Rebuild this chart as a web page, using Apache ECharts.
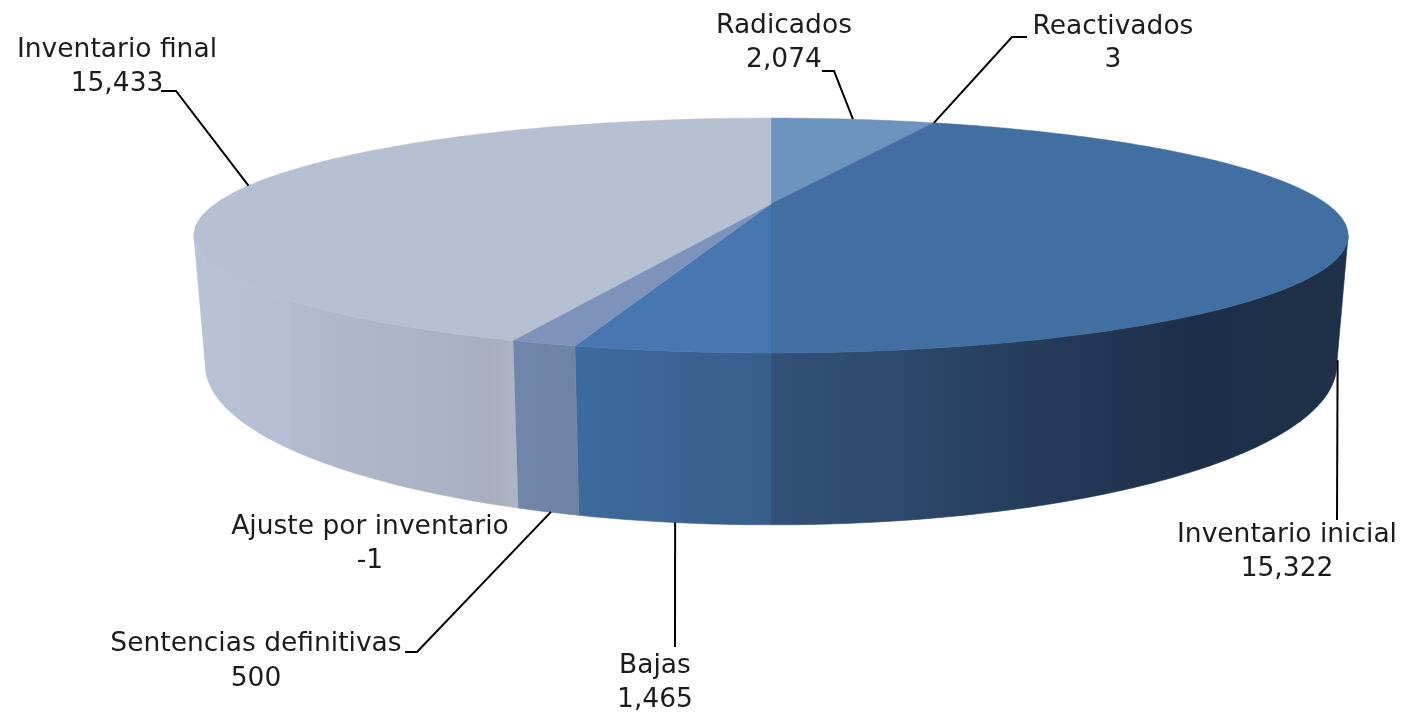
<!DOCTYPE html>
<html><head><meta charset="utf-8">
<style>html,body{margin:0;padding:0;background:#fff}#c{width:1404px;height:715px}</style>
<script src="https://cdn.jsdelivr.net/npm/echarts@6/dist/echarts.min.js"></script>
</head><body><div id="c"></div>
<script>
// ---- data ----
const categories = ['Radicados','Reactivados','Inventario inicial','Bajas','Sentencias definitivas','Ajuste por inventario','Inventario final'];
const values = [2074,3,15322,1465,500,-1,15433];
const valueLabels = ['2,074','3','15,322','1,465','500','-1','15,433'];

// ---- styles ----
const topColors = ['#6c94bf','#6c94bf','#426fa2','#4677b0','#7e93bc','#7e93bc','#b5c0d3'];
const sideStops = [
  [[771,'#5d82aa'],[933,'#5d82aa']],
  [[933,'#3a5f8c'],[940,'#3a5f8c']],
  [[771,'#33507a'],[900,'#2c486a'],[1050,'#243b59'],[1190,'#1d2f48'],[1348,'#1f3149']],
  [[575,'#3d6b9d'],[771,'#385d89']],
  [[513,'#6e87ab'],[580,'#6f82a2']],
  [[513,'#6e87ab'],[516,'#6e87ab']],
  [[193,'#b6c2d6'],[289,'#b5bfd3'],[291,'#b1bacf'],[420,'#adb3c7'],[490,'#a9afc1'],[518,'#aeb5c4']]
];
// ---- layout: perspective planes of the disc (top face, bottom face) ----
const TOP = {cx:771, cy:204, a:556, b:109, k:0.268};
const BOT = {cx:771, cy:322, a:545, b:148.5, k:0.268};
const FONT = 'DejaVu Sans', FS = 26.5, TC = '#1c1c1c';
// label centre (x, y of line 1, y of line 2); leader: text-side points and which plane it touches
const labelLayout = [
  {x:784, y1:26, y2:60, line:[[822,71],[834,71]], plane:TOP},
  {x:1113,y1:27, y2:60, line:[[1027,37],[1012,37]], plane:TOP},
  {x:1287,y1:535,y2:569,line:[[1337,520]], plane:BOT, dx:3, dy:9},
  {x:655, y1:666,y2:700,line:[[675,647]], plane:BOT, dx:2},
  {x:256, y1:644,y2:679,line:[[405,652],[417,652]], plane:BOT, dx:3},
  {x:370, y1:527,y2:561,line:null},
  {x:117, y1:50, y2:84, line:[[161,91],[176,91]], plane:TOP}
];

// ---- geometry derived from values ----
const total = values.reduce((s,v)=>s+Math.abs(v),0);
const starts = []; let acc = 0;
values.forEach(v=>{starts.push(acc/total*360); acc+=Math.abs(v);});
const ends = starts.map((s,i)=>i<values.length-1?starts[i+1]:360);
// outline tangents of the perspective disc: only this range of the wall faces the viewer
const wallA = Math.acos(-TOP.k)*180/Math.PI, wallB = 360-wallA;
function proj(P,deg){
  const t=deg*Math.PI/180, s=Math.sin(t), c=Math.cos(t), w=1+P.k*c;
  return [P.cx+P.a*s/w, P.cy-P.b*c/w];
}
function arc(P,a0,a1){
  const pts=[], n=Math.max(2,Math.ceil(Math.abs(a1-a0)));
  for(let i=0;i<=n;i++) pts.push(proj(P,a0+(a1-a0)*i/n));
  return pts;
}
function sideFill(i){
  const st=sideStops[i], x0=st[0][0], x1=st[st.length-1][0];
  return new echarts.graphic.LinearGradient(x0,0,x1,0,
    st.map(s=>({offset:(s[0]-x0)/(x1-x0),color:s[1]})),true);
}
const idx = categories.map((c,i)=>[i,values[i]]);
const base = {type:'custom',coordinateSystem:'none',silent:true,animation:false,data:idx};

const option = {
  animation:false,
  backgroundColor:'#ffffff',
  series:[
    Object.assign({},base,{name:'sides',z:1,renderItem(p,api){
      const i=api.value(0), a=Math.max(starts[i],wallA), b=Math.min(ends[i],wallB);
      if(b<=a) return {type:'group',children:[]};
      const pts=arc(TOP,a,b).concat(arc(BOT,b,a));
      const f=sideFill(i);
      return {type:'polygon',shape:{points:pts},style:{fill:f,stroke:f,lineWidth:0.6}};
    }}),
    Object.assign({},base,{name:'tops',z:2,renderItem(p,api){
      const i=api.value(0);
      const pts=[[TOP.cx,TOP.cy]].concat(arc(TOP,starts[i],ends[i]));
      return {type:'polygon',shape:{points:pts},style:{fill:topColors[i],stroke:topColors[i],lineWidth:0.5}};
    }}),
    Object.assign({},base,{name:'labels',z:3,renderItem(p,api){
      const i=api.value(0), L=labelLayout[i], kids=[];
      if(L.line){
        const an=proj(L.plane,(starts[i]+ends[i])/2);
        an[0]+=L.dx||0; an[1]+=L.dy||0;
        kids.push({type:'polyline',shape:{points:L.line.concat([an])},
          style:{fill:null,stroke:'#000',lineWidth:2}});
      }
      const txt=(s,y)=>({type:'text',style:{text:s,x:L.x,y:y,align:'center',verticalAlign:'middle',
        font:FS+'px "'+FONT+'"',fill:TC}});
      kids.push(txt(categories[i],L.y1), txt(valueLabels[i],L.y2));
      return {type:'group',children:kids};
    }})
  ]
};
echarts.init(document.getElementById('c')).setOption(option);
</script></body></html>
